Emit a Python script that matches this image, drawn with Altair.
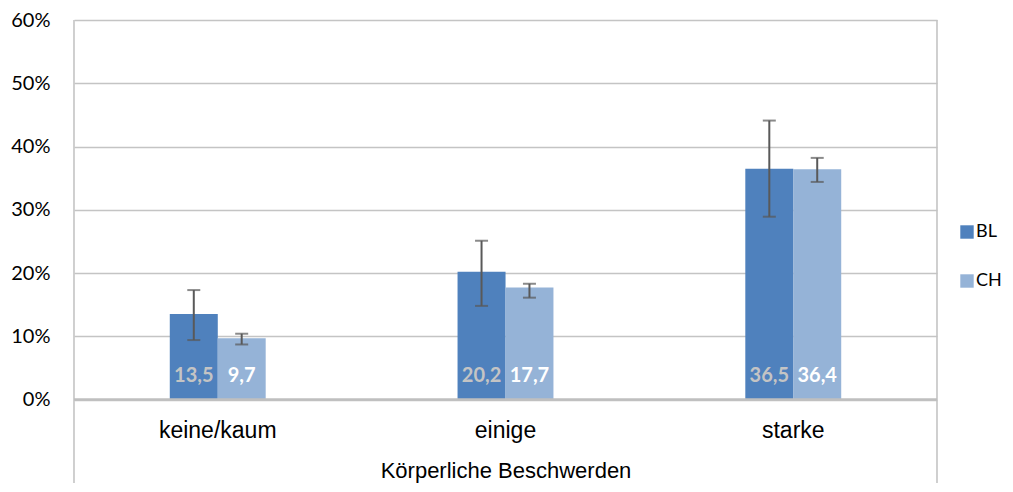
import altair as alt
import pandas as pd

categories = ["keine/kaum", "einige", "starke"]
series = ["BL", "CH"]
bl_values = [13.5, 20.2, 36.5]
ch_values = [9.7, 17.7, 36.4]
bl_low = [9.4, 14.8, 28.9]
bl_high = [17.3, 25.1, 44.1]
ch_low = [8.7, 16.1, 34.4]
ch_high = [10.4, 18.3, 38.2]

rows = []
for i, c in enumerate(categories):
    rows.append({"cat": c, "series": "BL", "value": bl_values[i], "lo": bl_low[i], "hi": bl_high[i],
                 "label": f"{bl_values[i]:.1f}".replace(".", ",")})
    rows.append({"cat": c, "series": "CH", "value": ch_values[i], "lo": ch_low[i], "hi": ch_high[i],
                 "label": f"{ch_values[i]:.1f}".replace(".", ",")})
df = pd.DataFrame(rows)

W, H = 863, 379.5

x = alt.X("cat:N", sort=categories,
          scale=alt.Scale(paddingInner=0.667, paddingOuter=0.333),
          axis=alt.Axis(title="Körperliche Beschwerden", labelAngle=0, ticks=False, domain=False,
                        labelFont="Liberation Sans", labelFontSize=23, labelColor="#000000",
                        labelPadding=20, titleFont="Liberation Sans", titleFontSize=22,
                        titleFontWeight="normal", titleColor="#000000", titlePadding=18))
xo = alt.XOffset("series:N", sort=series)
y = alt.Y("value:Q", scale=alt.Scale(domain=[0, 60]),
          axis=alt.Axis(title=None, values=[0, 10, 20, 30, 40, 50, 60], labelExpr="datum.value + '%'",
                        ticks=False, domain=False, labelFont="Lato", labelFontSize=20,
                        labelColor="#000000", labelPadding=24, gridColor="#c4c4c4", gridWidth=1.6))

color = alt.Color("series:N", sort=series,
                  scale=alt.Scale(domain=series, range=["#4f81bd", "#95b3d7"]),
                  legend=alt.Legend(title=None, orient="none", legendX=884, legendY=203,
                                    symbolType="square", symbolSize=180, symbolStrokeWidth=0,
                                    labelFont="Lato", labelFontSize=18, labelColor="#000000",
                                    rowPadding=31, labelOffset=0))

base = alt.Chart(df)

bars = base.mark_bar(size=48).encode(x=x, xOffset=xo, y=y, color=color)

err = base.mark_rule(color="#595959", strokeWidth=2).encode(
    x=x, xOffset=xo, y=alt.Y("lo:Q"), y2="hi:Q")
cap_lo = base.mark_tick(color="#595959", size=13, thickness=2).encode(x=x, xOffset=xo, y="lo:Q")
cap_hi = base.mark_tick(color="#595959", size=13, thickness=2).encode(x=x, xOffset=xo, y="hi:Q")

labels = base.mark_text(font="Lato", fontSize=20, fontWeight="bold", dy=-24, baseline="middle").encode(
    x=x, xOffset=xo, y=alt.datum(0), text="label:N",
    color=alt.condition(alt.datum.series == "BL", alt.value("#c4c4c4"), alt.value("#ffffff")))

zero = alt.Chart(pd.DataFrame({"v": [0]})).mark_rule(color="#bfbfbf", strokeWidth=2.5).encode(y="v:Q")

edge_l = alt.Chart(pd.DataFrame({"e": [0]})).mark_rule(color="#c4c4c4", strokeWidth=1.6, clip=False).encode(
    x=alt.value(0), y=alt.value(0), y2=alt.value(H + 84))
edge_r = alt.Chart(pd.DataFrame({"e": [0]})).mark_rule(color="#c4c4c4", strokeWidth=1.6, clip=False).encode(
    x=alt.value(W), y=alt.value(0), y2=alt.value(H + 84))

chart = alt.layer(edge_l, edge_r, bars, err, cap_lo, cap_hi, zero, labels).properties(
    width=W, height=H, autosize=alt.AutoSizeParams(type="none"),
    padding={"left": 66, "top": 12, "right": 68, "bottom": 83.5}
).configure_view(stroke=None)

chart.save("out.html", embed_options={"renderer": "svg", "actions": False})
